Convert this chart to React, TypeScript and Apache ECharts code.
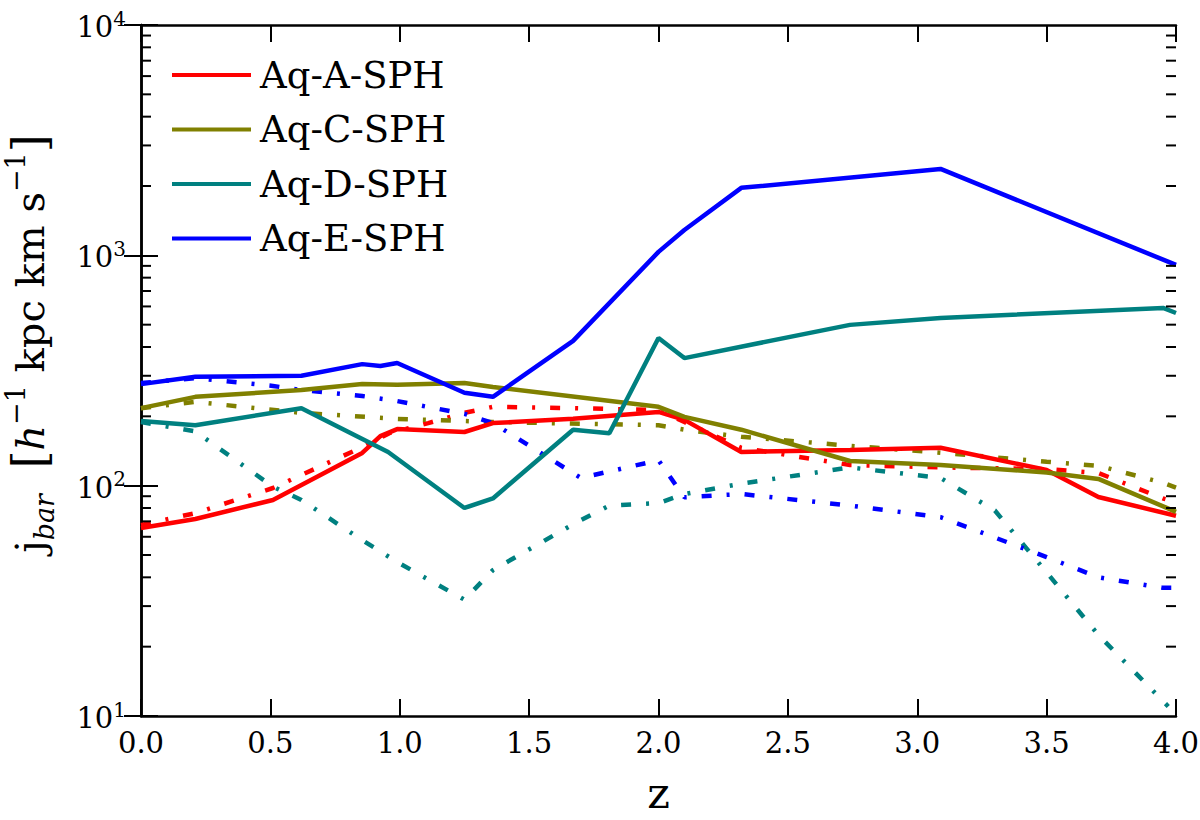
import { useEffect, useRef } from 'react';
import * as echarts from 'echarts';

const FONT = 'DejaVu Serif';

const legendNames = ['Aq-A-SPH', 'Aq-C-SPH', 'Aq-D-SPH', 'Aq-E-SPH'];
const lineColors = ['#ff0000', '#808000', '#008080', '#0000ff'];

// [z, j_bar] pairs, solid lines
const aqASolid = [[0, 65.5], [0.21, 71.7], [0.51, 86.7], [0.855, 138.7], [0.925, 164], [0.99, 176], [1.25, 171], [1.36, 187], [1.67, 195], [2.0, 209], [2.1, 193], [2.32, 140], [2.74, 143], [3.09, 146], [3.5, 117], [3.7, 89.3], [4.0, 74]];
const aqCSolid = [[0, 217], [0.21, 243], [0.62, 260], [0.855, 276], [0.99, 274], [1.25, 279], [1.36, 268], [2.0, 220], [2.1, 199], [2.32, 175], [2.74, 128], [3.09, 123], [3.5, 114], [3.7, 107], [4.0, 77]];
const aqDSolid = [[0, 191], [0.21, 183], [0.62, 217], [0.955, 140], [1.25, 80], [1.36, 88], [1.67, 175], [1.81, 169], [2.0, 438], [2.1, 358], [2.74, 499], [3.09, 535], [3.95, 591], [4.0, 562]];
const aqESolid = [[0, 276], [0.21, 297], [0.62, 300], [0.855, 337], [0.925, 331], [0.99, 341], [1.25, 253], [1.36, 243], [1.67, 425], [2.0, 1035], [2.1, 1289], [2.32, 1963], [3.09, 2372], [4.0, 909]];

// dash-dot lines
const aqADash = [[0, 67.5], [0.21, 76], [0.51, 97.7], [0.855, 147], [0.96, 169], [1.11, 187], [1.25, 207], [1.36, 220], [1.67, 217], [2.0, 213], [2.1, 189], [2.32, 146], [2.74, 123], [3.09, 120], [3.5, 118], [3.7, 113.5], [3.95, 88], [4.0, 85]];
const aqCDash = [[0, 217], [0.21, 231], [0.62, 207], [0.99, 195], [1.36, 189], [2.0, 183], [2.1, 175], [2.32, 163], [2.74, 149], [3.09, 139], [3.5, 127], [3.7, 122], [3.95, 103], [4.0, 98]];
const aqDDash = [[0, 189], [0.21, 172], [0.51, 99], [0.62, 86.7], [0.855, 58], [0.99, 46.6], [1.25, 32], [1.36, 43], [1.67, 68], [1.81, 82], [2.0, 84], [2.1, 92], [2.32, 102], [2.74, 120], [3.09, 108], [3.3, 78], [3.5, 42], [3.7, 22.5], [3.97, 11]];
const aqEDash = [[0, 279], [0.21, 293], [0.51, 271], [0.62, 260], [0.855, 245], [0.99, 233], [1.25, 205], [1.36, 187], [1.7, 108], [2.0, 129], [2.1, 89], [2.32, 92], [2.74, 82], [3.09, 73], [3.5, 49], [3.7, 40], [3.95, 36], [4.0, 36]];

const minorTickValues = [20, 30, 40, 50, 60, 70, 80, 90, 200, 300, 400, 500, 600, 700, 800, 900, 2000, 3000, 4000, 5000, 6000, 7000, 8000, 9000];

const solidData = [aqASolid, aqCSolid, aqDSolid, aqESolid];
const dashData = [aqADash, aqCDash, aqDDash, aqEDash];

const App = () => {
    const chartRef = useRef<HTMLDivElement | null>(null);

    useEffect(() => {
        if (!chartRef.current) return;
        const myChart = echarts.init(chartRef.current, null, { renderer: 'svg' });

        const frame = { lineStyle: { color: '#000', width: 2.5 } };
        const majorTick = { inside: true, length: 17, lineStyle: { color: '#000', width: 2 } };

        const dashSeries = dashData.map((d, i) => ({
            name: legendNames[i] + ' dash-dot',
            type: 'line',
            data: d,
            symbol: 'none',
            itemStyle: { color: lineColors[i] },
            lineStyle: { width: 4.5, color: lineColors[i], type: [10, 15, 3, 15], cap: 'butt' },
            z: 2
        }));
        const solidSeries = solidData.map((d, i) => ({
            name: legendNames[i],
            type: 'line',
            data: d,
            symbol: 'none',
            itemStyle: { color: lineColors[i] },
            lineStyle: { width: 4.5, color: lineColors[i], cap: 'butt' },
            z: 3
        }));

        const option = {
            animation: false,
            grid: { left: 141, right: 24, top: 25, bottom: 104, outerBoundsMode: 'none' },
            legend: {
                data: legendNames,
                orient: 'vertical',
                left: 167,
                top: 50,
                icon: 'rect',
                itemWidth: 79,
                itemHeight: 4,
                itemGap: 14.5,
                textStyle: { fontFamily: FONT, fontSize: 37, color: '#000', lineHeight: 40, padding: [0, 0, 0, 4] }
            },
            xAxis: [
                {
                    type: 'value', min: 0, max: 4, interval: 0.5,
                    name: 'z', nameLocation: 'middle', nameGap: 57,
                    nameTextStyle: { fontFamily: FONT, fontSize: 43, lineHeight: 40, color: '#000' },
                    axisLine: frame, axisTick: majorTick, splitLine: { show: false },
                    axisLabel: { fontFamily: FONT, fontSize: 29, color: '#000', margin: 12, formatter: (v: number) => v.toFixed(1) }
                },
                {
                    type: 'value', min: 0, max: 4, interval: 0.5, position: 'top',
                    axisLine: frame, axisTick: majorTick, splitLine: { show: false }, axisLabel: { show: false }
                }
            ],
            yAxis: [
                {
                    type: 'log', logBase: 10, min: 10, max: 10000,
                    name: '{j|j}{sub|bar}{n|  }{br|[}{it|h}{sup|−1}{n| kpc km s}{sup|−1}{br|]}',
                    nameLocation: 'middle', nameRotate: 90, nameGap: 83,
                    nameTextStyle: {
                        fontFamily: FONT, color: '#000',
                        padding: [0, 0, 0, 54],
                        rich: {
                            j: { fontFamily: FONT, fontSize: 40, lineHeight: 56, verticalAlign: 'middle' },
                            sub: { fontFamily: FONT, fontSize: 27, fontStyle: 'italic', verticalAlign: 'bottom' },
                            n: { fontFamily: FONT, fontSize: 40, verticalAlign: 'middle' },
                            br: { fontFamily: FONT, fontSize: 46, verticalAlign: 'middle' },
                            it: { fontFamily: FONT, fontSize: 40, fontStyle: 'italic', verticalAlign: 'middle' },
                            sup: { fontFamily: FONT, fontSize: 27, verticalAlign: 'top' }
                        }
                    },
                    axisLine: frame, axisTick: majorTick, splitLine: { show: false },
                    axisLabel: {
                        margin: 15,
                        formatter: (v: number) => `{b|10}{s|${Math.round(Math.log10(v))}}`,
                        rich: {
                            b: { fontFamily: FONT, fontSize: 29, color: '#000', lineHeight: 33, verticalAlign: 'bottom' },
                            s: { fontFamily: FONT, fontSize: 20, color: '#000', verticalAlign: 'top' }
                        }
                    }
                },
                {
                    type: 'log', logBase: 10, min: 10, max: 10000, position: 'right',
                    axisLine: frame, axisTick: majorTick, splitLine: { show: false }, axisLabel: { show: false }
                }
            ],
            series: [
                ...dashSeries,
                ...solidSeries,
                {
                    name: 'minor ticks',
                    type: 'custom',
                    silent: true,
                    clip: false,
                    data: minorTickValues.map(v => [0, v]),
                    renderItem: (_params: any, api: any) => {
                        const v = api.value(1);
                        const p = api.coord([0, v]);
                        const q = api.coord([4, v]);
                        const st = { stroke: '#000', lineWidth: 2 };
                        return {
                            type: 'group',
                            children: [
                                { type: 'line', shape: { x1: p[0], y1: p[1], x2: p[0] + 10, y2: p[1] }, style: st },
                                { type: 'line', shape: { x1: q[0] - 10, y1: q[1], x2: q[0], y2: q[1] }, style: st }
                            ]
                        };
                    },
                    z: 4
                }
            ]
        };

        myChart.setOption(option);

        return () => {
            myChart.dispose();
        };
    }, []);

    return <div ref={chartRef} style={{ position: 'fixed', left: 0, top: 0, width: '1200px', height: '820px', background: '#fff' }} />;
};

export default App;
